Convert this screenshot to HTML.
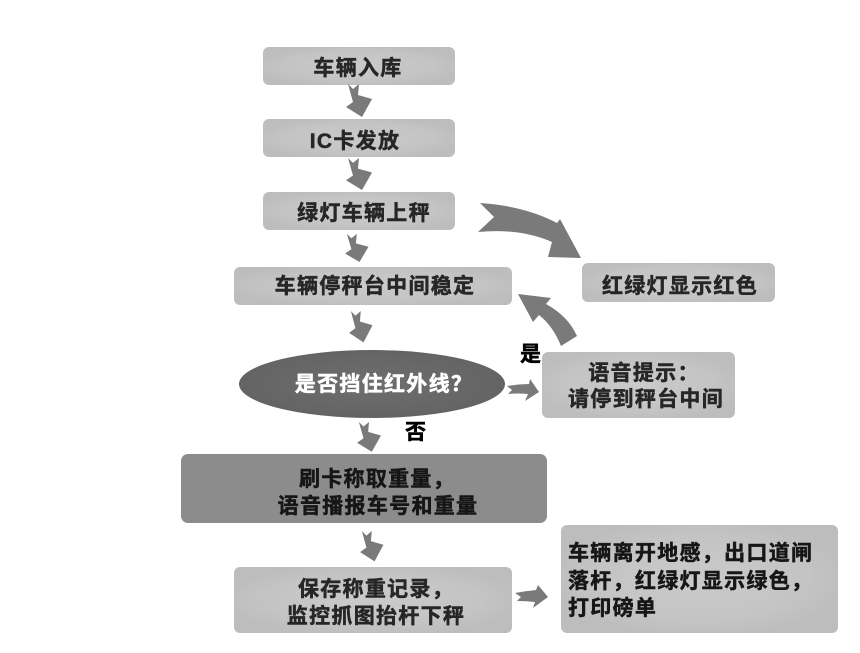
<!DOCTYPE html>
<html><head><meta charset="utf-8"><style>
html,body{margin:0;padding:0;background:#fff;}
svg{display:block;}
text{font-family:"Liberation Sans","Noto Sans CJK SC",sans-serif;font-weight:bold;font-size:21px;letter-spacing:1.3px;stroke-width:0.5px;}
</style></head><body>
<svg width="860" height="653" viewBox="0 0 860 653" xmlns="http://www.w3.org/2000/svg">
<defs>
<radialGradient id="lg" cx="50%" cy="50%" r="55%">
<stop offset="0" stop-color="#cacaca"/><stop offset="0.7" stop-color="#c4c4c4"/><stop offset="1" stop-color="#bdbdbd"/>
</radialGradient>
<radialGradient id="eg" cx="50%" cy="50%" r="55%">
<stop offset="0" stop-color="#6e6e6e"/><stop offset="1" stop-color="#636363"/>
</radialGradient>
<path id="da" d="M1,0 L6,5 L12,0 L11,11 L25,15 L15,33 L-1,23 L6,18 Z" fill="#7a7a7a"/>
</defs>
<rect width="860" height="653" fill="#fff"/>

<!-- boxes -->
<rect x="263" y="47" width="192" height="38" rx="6" fill="url(#lg)"/>
<rect x="263" y="119" width="192" height="38" rx="6" fill="url(#lg)"/>
<rect x="263" y="192" width="192" height="38" rx="6" fill="url(#lg)"/>
<rect x="234" y="267" width="278" height="38" rx="6" fill="url(#lg)"/>
<ellipse cx="372" cy="384" rx="133" ry="34" fill="url(#eg)"/>
<rect x="582" y="263" width="193" height="39" rx="6" fill="url(#lg)"/>
<rect x="542" y="352" width="193" height="66" rx="6" fill="url(#lg)"/>
<rect x="181" y="454" width="366" height="69" rx="7" fill="#8c8c8c"/>
<rect x="234" y="567" width="278" height="66" rx="6" fill="url(#lg)"/>
<rect x="561" y="525" width="277" height="108" rx="6" fill="url(#lg)"/>

<!-- down arrows -->
<use href="#da" transform="translate(347,84)"/>
<use href="#da" transform="translate(347,158) scale(1,0.97)"/>
<use href="#da" transform="translate(346,234) scale(0.9,0.85)"/>
<use href="#da" transform="translate(350,311) scale(0.9,0.95)"/>
<use href="#da" transform="translate(358,422) scale(0.92,0.9)"/>
<use href="#da" transform="translate(361,531) scale(0.9,0.92)"/>

<!-- curved arrow to red light box -->
<path d="M480,203 Q525,206 557,223 L560,219 L581,258 L548,257 L552,242 Q520,228 478,232 L494,217 Z" fill="#7a7a7a"/>
<!-- curved arrow back to stable box -->
<path d="M518,294 L551,298 L546,304 Q568,316 577,336 L561,346 Q553,326 539,315 L533,322 Z" fill="#7a7a7a"/>
<!-- ellipse to voice box -->
<path d="M507,386 Q518,384 529,384 L530,379 L539,392 L525,401 L528,394 Q517,393 508,394 L512,390 Z" fill="#7a7a7a"/>
<!-- save to leave -->
<path d="M515,593 Q526,591 536,590 L538,585 L548,597 L533,608 L535,602 Q526,601 517,601 L521,597 Z" fill="#7a7a7a"/>

<!-- texts -->
<g fill="#262626" stroke="#262626" text-anchor="middle">
<text x="358" y="75">车辆入库</text>
<text x="355" y="148">IC卡发放</text>
<text x="364" y="220">绿灯车辆上秤</text>
<text x="375" y="293">车辆停秤台中间稳定</text>
<text x="680" y="293">红绿灯显示红色</text>
<text x="644" y="380">语音提示：</text>
<text x="646" y="406">请停到秤台中间</text>
<text x="376" y="596">保存称重记录，</text>
<text x="376" y="623">监控抓图抬杆下秤</text>
</g>
<g fill="#161616" stroke="#161616" text-anchor="middle">
<text x="377" y="486">刷卡称取重量，</text>
<text x="378" y="513">语音播报车号和重量</text>
</g>
<text x="384" y="391" fill="#fff" stroke="#fff" stroke-width="0.3" text-anchor="middle">是否挡住红外线？</text>
<g fill="#161616" stroke="#161616" style="letter-spacing:1.6px">
<text x="568" y="560">车辆离开地感，出口道闸</text>
<text x="568" y="588">落杆，红绿灯显示绿色，</text>
<text x="568" y="615">打印磅单</text>
</g>
<text x="520" y="361" fill="#000" stroke="#000" style="letter-spacing:0">是</text>
<text x="405" y="439" fill="#000" stroke="#000" style="letter-spacing:0">否</text>
</svg>
</body></html>
